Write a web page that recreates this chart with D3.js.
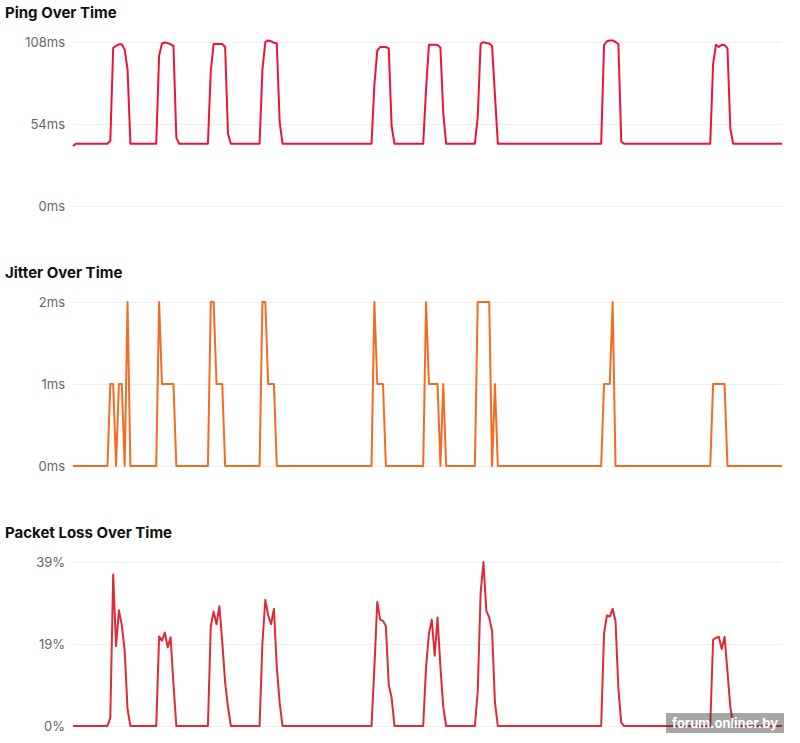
<!DOCTYPE html>
<html>
<head>
<meta charset="utf-8">
<script src="https://cdn.jsdelivr.net/npm/d3@7"></script>
<style>
  body { margin: 0; background: #fff; }
  svg { display: block; font-family: Inter, "Noto Sans", sans-serif; }
</style>
</head>
<body>
<div id="charts"></div>
<script>
// samples, one per time step
var pingValues = [
  39.5, 41, 41, 41, 41, 41, 41, 41, 41, 41, 41, 41,
  41, 43, 104, 105.5, 106.5, 106.5, 103, 90, 41,
  41, 41, 41, 41, 41, 41, 41, 41,
  41, 99, 107, 107.7, 107.3, 106.5, 105.5, 45, 41,
  41, 41, 41, 41, 41, 41, 41, 41, 41,
  41, 89, 106.7, 106.7, 106.7, 106.7, 104.7, 47.6, 41,
  41, 41, 41, 41, 41, 41, 41, 41, 41,
  41, 90, 108, 109, 108.5, 107.5, 107, 55, 41,
  41, 41, 41, 41, 41, 41, 41, 41, 41, 41, 41, 41, 41, 41, 41,
  41, 41, 41, 41, 41, 41, 41, 41, 41, 41, 41, 41, 41, 41, 41,
  41, 80, 102.3, 104.7, 104.7, 104.7, 103.8, 52.7, 41,
  41, 41, 41, 41, 41, 41, 41, 41, 41,
  41, 77, 106.2, 106.2, 106.2, 106, 104.4, 61, 41,
  41, 41, 41, 41, 41, 41, 41, 41, 41,
  41, 58.5, 106.7, 107.9, 107.3, 107, 105.3, 73, 41,
  41, 41, 41, 41, 41, 41, 41, 41, 41, 41, 41, 41, 41, 41, 41, 41, 41, 41,
  41, 41, 41, 41, 41, 41, 41, 41, 41, 41, 41, 41, 41, 41, 41, 41, 41,
  41, 106, 108.5, 109, 109, 108, 106.7, 42.5, 41,
  41, 41, 41, 41, 41, 41, 41, 41, 41, 41, 41, 41, 41, 41, 41,
  41, 41, 41, 41, 41, 41, 41, 41, 41, 41, 41, 41, 41, 41,
  41, 93.6, 106.2, 104.7, 106.2, 106, 103.8, 51, 41,
  41, 41, 41, 41, 41, 41, 41, 41, 41, 41, 41, 41, 41, 41, 41, 41, 41
];

var jitterValues = [
  0, 0, 0, 0, 0, 0, 0, 0, 0, 0, 0, 0,
  0, 1, 1, 0, 1, 1, 0, 2, 0,
  0, 0, 0, 0, 0, 0, 0, 0,
  0, 2, 1, 1, 1, 1, 1, 0,
  0, 0, 0, 0, 0, 0, 0, 0, 0, 0,
  0, 2, 2, 1, 1, 1, 0,
  0, 0, 0, 0, 0, 0, 0, 0, 0, 0, 0,
  0, 2, 2, 1, 1, 1, 0,
  0, 0, 0, 0, 0, 0, 0, 0, 0, 0, 0, 0, 0, 0, 0, 0,
  0, 0, 0, 0, 0, 0, 0, 0, 0, 0, 0, 0, 0, 0, 0, 0,
  0, 2, 1, 1, 1, 0,
  0, 0, 0, 0, 0, 0, 0, 0, 0, 0, 0, 0,
  0, 2, 1, 1, 1, 1, 0, 1, 0,
  0, 0, 0, 0, 0, 0, 0, 0, 0,
  0, 2, 2, 2, 2, 2, 0, 1, 0,
  0, 0, 0, 0, 0, 0, 0, 0, 0, 0, 0, 0, 0, 0, 0, 0, 0, 0,
  0, 0, 0, 0, 0, 0, 0, 0, 0, 0, 0, 0, 0, 0, 0, 0, 0,
  0, 1, 1, 1, 2, 0,
  0, 0, 0, 0, 0, 0, 0, 0, 0, 0, 0, 0, 0, 0, 0, 0,
  0, 0, 0, 0, 0, 0, 0, 0, 0, 0, 0, 0, 0, 0, 0, 0,
  0, 1, 1, 1, 1, 1, 0,
  0, 0, 0, 0, 0, 0, 0, 0, 0, 0, 0, 0, 0, 0, 0, 0, 0, 0, 0
];

var lossValues = [
  0, 0, 0, 0, 0, 0, 0, 0, 0, 0, 0, 0, 0,
  2, 36, 19, 27.5, 24, 18, 4,
  0, 0, 0, 0, 0, 0, 0, 0, 0, 0,
  21.3, 20.3, 22.2, 18.7, 21.1, 10,
  0, 0, 0, 0, 0, 0, 0, 0, 0, 0, 0, 0,
  23.7, 27.2, 24.2, 28.5, 20, 10.4, 4.5,
  0, 0, 0, 0, 0, 0, 0, 0, 0, 0, 0,
  19.9, 30, 26.3, 24.2, 27.9, 14, 5.5,
  0, 0, 0, 0, 0, 0, 0, 0, 0, 0, 0, 0, 0, 0, 0, 0,
  0, 0, 0, 0, 0, 0, 0, 0, 0, 0, 0, 0, 0, 0, 0, 0,
  14, 29.5, 25.3, 25, 23.7, 9.8, 6.7,
  0, 0, 0, 0, 0, 0, 0, 0, 0, 0, 0,
  14, 22, 25.3, 16.7, 25.8, 14, 4.5,
  0, 0, 0, 0, 0, 0, 0, 0, 0, 0, 0,
  8.2, 31.6, 39, 27.4, 25.8, 22.6, 5.6,
  0, 0, 0, 0, 0, 0, 0, 0, 0, 0, 0, 0, 0, 0, 0, 0, 0, 0, 0,
  0, 0, 0, 0, 0, 0, 0, 0, 0, 0, 0, 0, 0, 0, 0, 0, 0, 0,
  22, 26.3, 26, 27.9, 24.9, 8.9, 0.8,
  0, 0, 0, 0, 0, 0, 0, 0, 0, 0, 0, 0, 0, 0, 0, 0,
  0, 0, 0, 0, 0, 0, 0, 0, 0, 0, 0, 0, 0, 0, 0,
  20.5, 21, 21.2, 18.3, 21.2, 13, 4.5,
  0, 0, 0, 0, 0, 0, 0, 0, 0, 0, 0, 0, 0, 0, 0, 0, 0, 0
];

var titles = ["Ping Over Time", "Jitter Over Time", "Packet Loss Over Time"];
var pingTicks = [0, 54, 108];
var jitterTicks = [0, 1, 2];
var lossTicks = [0, 19.5, 39];
var pingTickLabels = ["0ms", "54ms", "108ms"];
var jitterTickLabels = ["0ms", "1ms", "2ms"];
var lossTickLabels = ["0%", "19%", "39%"];

var panels = [
  {title: titles[0], values: pingValues, ticks: pingTicks, labels: pingTickLabels, color: "#ee1439"},
  {title: titles[1], values: jitterValues, ticks: jitterTicks, labels: jitterTickLabels, color: "#f36c24"},
  {title: titles[2], values: lossValues, ticks: lossTicks, labels: lossTickLabels, color: "#de2c36"}
];

var width = 800, height = 743;
var plotLeft = 73, plotRight = 782;
var panelStep = 260, plotTop = 42, plotH = 164;

var svg = d3.select("#charts")
  .append("svg")
    .attr("width", width)
    .attr("height", height);

var x = d3.scaleLinear()
  .domain([0, pingValues.length - 1])
  .range([plotLeft, plotRight]);

panels.forEach(function(p, i) {
  var top = plotTop + i * panelStep;
  var g = svg.append("g");

  g.append("text")
    .attr("x", 5)
    .attr("y", 18 + i * panelStep)
    .attr("font-size", 15)
    .attr("font-weight", 700)
    .attr("fill", "#111")
    .text(p.title);

  var y = d3.scaleLinear()
    .domain([0, d3.max(p.ticks)])
    .range([top + plotH, top]);

  // gridlines + tick labels
  var axis = g.append("g")
    .attr("transform", "translate(" + plotLeft + ",0)")
    .call(d3.axisLeft(y)
      .tickValues(p.ticks)
      .tickSize(-(plotRight - plotLeft))
      .tickPadding(8)
      .tickFormat(function(d, k) { return p.labels[k]; }));
  axis.select(".domain").remove();
  axis.selectAll(".tick line").attr("stroke", "#efefef");
  axis.selectAll(".tick text")
    .attr("fill", "#666")
    .attr("font-size", 13)
    .attr("font-family", "Inter, sans-serif");

  var line = d3.line()
    .x(function(d, k) { return x(k); })
    .y(function(d) { return y(d); });

  g.append("path")
    .datum(p.values)
    .attr("fill", "none")
    .attr("stroke", p.color)
    .attr("stroke-width", 2)
    .attr("stroke-linejoin", "round")
    .attr("d", line);
});

// forum watermark in the corner of the screenshot
svg.append("rect")
  .attr("x", 666).attr("y", 713)
  .attr("width", 118).attr("height", 20)
  .attr("fill", "rgba(60,60,60,0.45)");
svg.append("text")
  .attr("x", 725).attr("y", 728)
  .attr("text-anchor", "middle")
  .attr("font-size", 13)
  .attr("font-weight", 700)
  .attr("fill", "#fff")
  .text("forum.onliner.by");
</script>
</body>
</html>
